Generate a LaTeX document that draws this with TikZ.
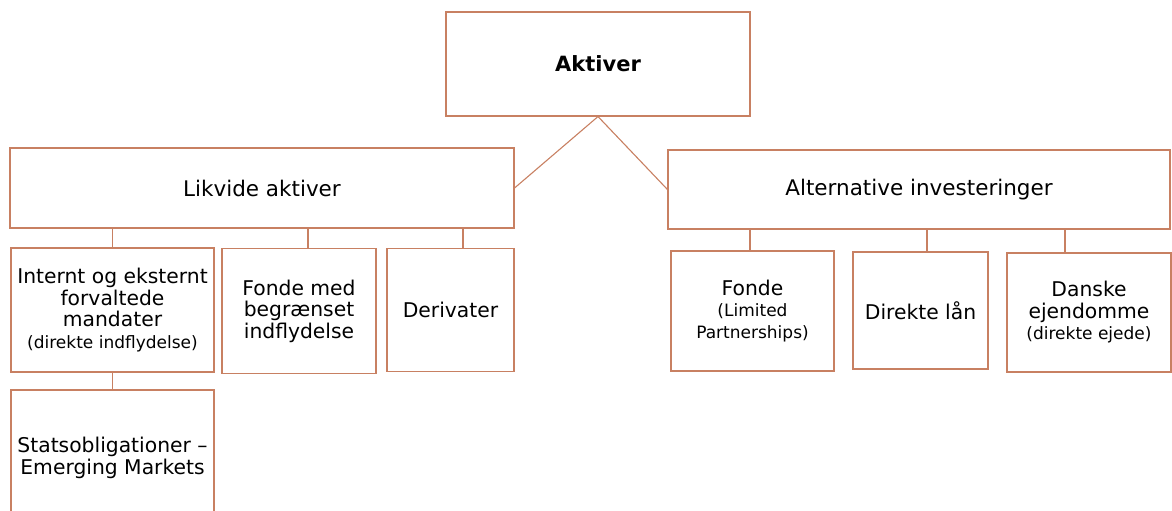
\documentclass[tikz,border=0pt]{standalone}
\usepackage{fontspec}
\setmainfont{DejaVu Sans}
\definecolor{edge}{RGB}{200,128,98}
\newcommand\smallfs{\fontsize{17}{19}\selectfont}
\begin{document}
\begin{tikzpicture}[x=1pt,y=-1pt,
  box/.style={draw=edge, line width=1.1pt, inner sep=0pt, align=center,
    font=\fontsize{20.3}{21.5}\selectfont},
  link/.style={draw=edge, line width=1.1pt}]
\useasboundingbox (0,0) rectangle (1172,511);
\node[box, minimum width=304, minimum height=104, font=\fontsize{21}{24}\selectfont\bfseries] (akt) at (598,64) {Aktiver};
\node[box, minimum width=504, minimum height=80, font=\fontsize{21.5}{24}\selectfont] (liq) at (262,188) {Likvide aktiver};
\node[box, minimum width=502, minimum height=79, font=\fontsize{21.5}{24}\selectfont] (alt) at (919,189.5) {Alternative investeringer};
\node[box, minimum width=203, minimum height=124] (int) at (112.5,310) {Internt og eksternt\\forvaltede\\mandater\\\smallfs (direkte indflydelse)};
\node[box, minimum width=154, minimum height=125] (fmb) at (299,311) {Fonde med\\begrænset\\indflydelse};
\node[box, minimum width=127, minimum height=123] (der) at (450.5,310) {Derivater};
\node[box, minimum width=203, minimum height=136] (sta) at (112.5,458) {Statsobligationer –\\Emerging Markets};
\node[box, minimum width=163, minimum height=120] (flp) at (752.5,311) {Fonde\\\smallfs (Limited\\\smallfs Partnerships)};
\node[box, minimum width=135, minimum height=117] (dl) at (920.5,310.5) {Direkte lån};
\node[box, minimum width=164, minimum height=119] (dan) at (1089,312.5) {Danske\\ejendomme\\\smallfs (direkte ejede)};
\draw[link] (akt.south) -- (liq.east);
\draw[link] (akt.south) -- (alt.west);
\draw[link] (int.north) -- (int.north |- liq.south);
\draw[link] ([xshift=9pt]fmb.north) -- ([xshift=9pt]fmb.north |- liq.south);
\draw[link] ([xshift=12.5pt]der.north) -- ([xshift=12.5pt]der.north |- liq.south);
\draw[link] (int.south) -- (sta.north);
\draw[link] ([xshift=-2.5pt]flp.north) -- ([xshift=-2.5pt]flp.north |- alt.south);
\draw[link] ([xshift=6.5pt]dl.north) -- ([xshift=6.5pt]dl.north |- alt.south);
\draw[link] ([xshift=-24pt]dan.north) -- ([xshift=-24pt]dan.north |- alt.south);
\end{tikzpicture}
\end{document}
